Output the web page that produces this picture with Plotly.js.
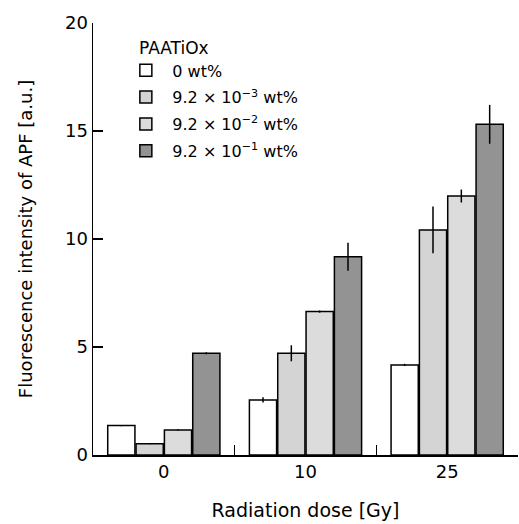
<!DOCTYPE html>
<html>
<head>
<meta charset="utf-8">
<script src="https://cdn.plot.ly/plotly-3.0.1.min.js"></script>
<style>html,body{margin:0;padding:0;background:#fff;}#chart{width:519px;height:524px;}</style>
</head>
<body>
<div id="chart"></div>
<script>
const categories = ["0", "10", "25"];
const legendTitle = "PAATiOx";
const seriesNames = ["0 wt%", "9.2 × 10<sup>−3</sup> wt%", "9.2 × 10<sup>−2</sup> wt%", "9.2 × 10<sup>−1</sup> wt%"];
const values0 = [1.36, 2.55, 4.17];
const errors0 = [0.03, 0.12, 0.05];
const values1 = [0.52, 4.71, 10.42];
const errors1 = [0.02, 0.37, 1.08];
const values2 = [1.16, 6.64, 11.99];
const errors2 = [0.03, 0.05, 0.3];
const values3 = [4.71, 9.18, 15.31];
const errors3 = [0.05, 0.65, 0.9];
const colors = ["#ffffff", "#d4d4d4", "#dcdcdc", "#939393"];

const allValues = [values0, values1, values2, values3];
const allErrors = [errors0, errors1, errors2, errors3];
const font = "DejaVu Sans, Verdana, sans-serif";

const traces = allValues.map((v, i) => ({
  type: "bar",
  name: seriesNames[i],
  legendgroup: "g" + i,
  x: categories,
  y: v,
  marker: {color: colors[i], line: {color: "#000", width: 1.5}},
  error_y: {type: "data", array: allErrors[i], visible: true, color: "#000", thickness: 1.5, width: 0}
}));

const layout = {
  width: 519, height: 524,
  margin: {l: 93, r: 1, t: 23, b: 69},
  paper_bgcolor: "#fff", plot_bgcolor: "#fff",
  font: {family: font, size: 17, color: "#000"},
  barmode: "group",
  bargap: 0.2,
  bargroupgap: 0.04,
  showlegend: true,
  legend: {
    x: 0.062, y: 0.9296, xanchor: "left", yanchor: "top",
    bgcolor: "rgba(0,0,0,0)",
    font: {size: 16},
    tracegroupgap: 3,
    itemwidth: 43
  },
  annotations: [{
    text: legendTitle, xref: "paper", yref: "paper",
    x: (137 - 93) / 425, y: (455 - 48) / 432, xanchor: "left", yanchor: "middle",
    showarrow: false, font: {size: 17}
  }],
  xaxis: {
    type: "category",
    showline: true, linecolor: "#000", linewidth: 1.5,
    ticks: "inside", ticklen: 10, tickwidth: 1.5, tickcolor: "#000",
    tickson: "boundaries",
    showgrid: false, zeroline: false,
    tickfont: {size: 18},
    title: {text: "Radiation dose [Gy]", font: {size: 19}, standoff: 22}
  },
  yaxis: {
    range: [0, 20],
    tickvals: [0, 5, 10, 15, 20],
    showline: true, linecolor: "#000", linewidth: 1.5,
    ticks: "inside", ticklen: 10, tickwidth: 1.5, tickcolor: "#000",
    showgrid: false, zeroline: false,
    tickfont: {size: 18},
    title: {text: "Fluorescence intensity of APF [a.u.]", font: {size: 18}, standoff: 27}
  }
};

Plotly.newPlot("chart", traces, layout, {displayModeBar: false, staticPlot: true});
</script>
</body>
</html>
